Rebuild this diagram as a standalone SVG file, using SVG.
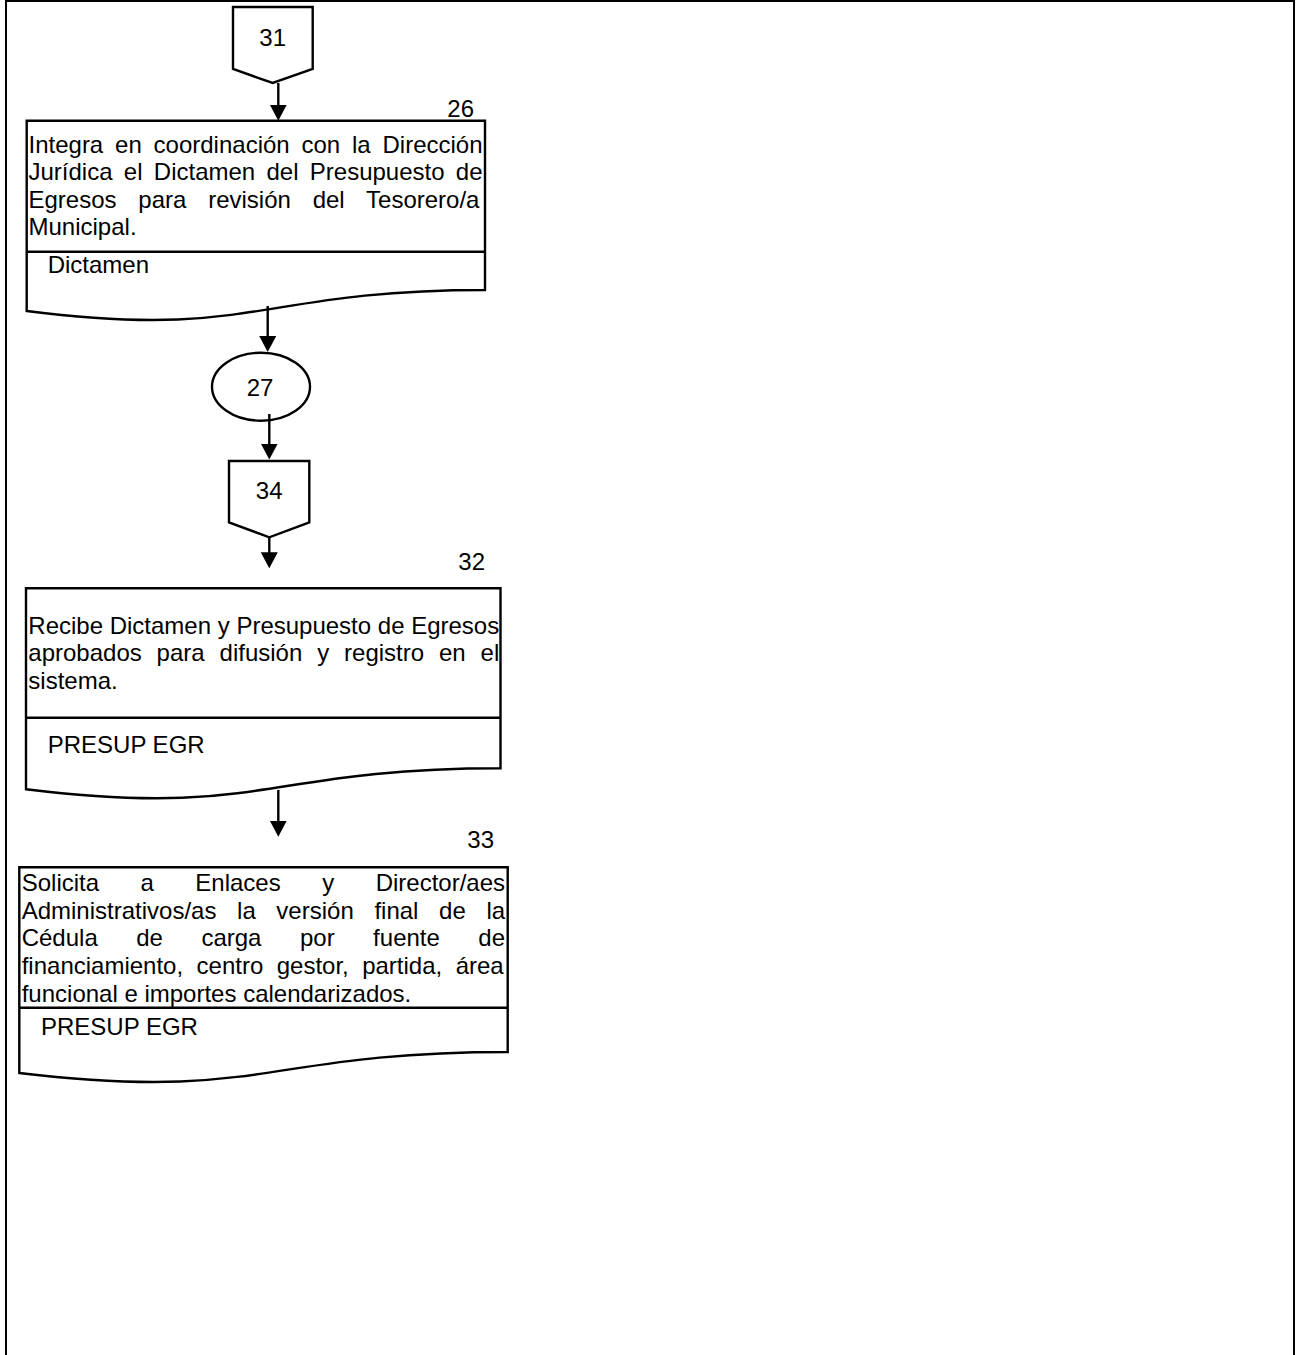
<svg xmlns="http://www.w3.org/2000/svg" width="1297" height="1355" viewBox="0 0 1297 1355">
  <style>
    .frame { fill: none; stroke: #000; stroke-width: 2; }
    .shape { fill: #fff; stroke: #000; stroke-width: 2.4; stroke-linejoin: miter; }
    .line { fill: none; stroke: #000; stroke-width: 2.4; }
    .edge { fill: none; stroke: #000; stroke-width: 2.4; marker-end: url(#arrow); }
    text { font-family: "Liberation Sans", Arial, sans-serif; font-size: 24px; fill: #000; }
    .mid { text-anchor: middle; }
    .end { text-anchor: end; }
  </style>
  <defs>
    <marker id="arrow" markerUnits="userSpaceOnUse" markerWidth="16" markerHeight="17" viewBox="0 0 16 17" refX="12" refY="8.5" orient="auto">
      <path d="M0,0 L16,8.5 L0,17 z" fill="#000"/>
    </marker>
  </defs>

  <rect class="frame" x="6" y="1" width="1288" height="1364"/>

  <!-- off-page connector 31 -->
  <g id="conn31">
    <polygon class="shape" points="233,7 312.7,7 312.7,69 272.7,83 233,69"/>
    <text class="mid" x="272.7" y="46">31</text>
  </g>

  <!-- step 26 -->
  <g id="step26">
    <text class="end" x="474" y="117">26</text>
    <path class="shape" d="M26.7,120.7 H485 V290 C256,290 256,340 26.7,311 Z"/>
    <line class="line" x1="26.7" y1="251.7" x2="485" y2="251.7"/>
    <text x="28.5" y="153" style="word-spacing:5.16px">Integra en coordinación con la Dirección</text>
    <text x="28.5" y="180.4" style="word-spacing:4.63px">Jurídica el Dictamen del Presupuesto de</text>
    <text x="28.5" y="207.8" style="word-spacing:15.13px">Egresos para revisión del Tesorero/a</text>
    <text x="28.5" y="235.2">Municipal.</text>
    <text x="47.7" y="273">Dictamen</text>
  </g>

  <!-- connector 27 -->
  <g id="conn27">
    <ellipse class="shape" cx="261" cy="386.7" rx="49" ry="34"/>
    <text class="mid" x="260" y="395.7">27</text>
  </g>

  <!-- off-page connector 34 -->
  <g id="conn34">
    <polygon class="shape" points="229,461 309.3,461 309.3,522.3 269.3,537.3 229,522.3"/>
    <text class="mid" x="269.2" y="499.3">34</text>
  </g>

  <!-- step 32 -->
  <g id="step32">
    <text class="end" x="485" y="570">32</text>
    <path class="shape" d="M26,588.3 H500.5 V768.3 C263,768.3 263,818.3 26,789.3 Z"/>
    <line class="line" x1="26" y1="717.7" x2="500.5" y2="717.7"/>
    <text x="28.3" y="634">Recibe Dictamen y Presupuesto de Egresos</text>
    <text x="28.3" y="661.4" style="word-spacing:8.23px">aprobados para difusión y registro en el</text>
    <text x="28.3" y="688.8">sistema.</text>
    <text x="47.7" y="752.7">PRESUP EGR</text>
  </g>

  <!-- step 33 -->
  <g id="step33">
    <text class="end" x="494" y="848.3">33</text>
    <path class="shape" d="M19.3,867.3 H507.7 V1052 C263.5,1052 263.5,1102 19.3,1073 Z"/>
    <line class="line" x1="19.3" y1="1007.7" x2="507.7" y2="1007.7"/>
    <text x="21.7" y="891" style="word-spacing:34.8px">Solicita a Enlaces y Director/aes</text>
    <text x="21.7" y="918.7" style="word-spacing:13.97px">Administrativos/as la versión final de la</text>
    <text x="21.7" y="946.4" style="word-spacing:31.82px">Cédula de carga por fuente de</text>
    <text x="21.7" y="974.1" style="word-spacing:6.77px">financiamiento, centro gestor, partida, área</text>
    <text x="21.7" y="1001.8">funcional e importes calendarizados.</text>
    <text x="41" y="1035">PRESUP EGR</text>
  </g>

  <!-- flow connectors -->
  <g id="connectors">
    <line class="edge" x1="278.3" y1="83" x2="278.3" y2="116.7"/>
    <line class="edge" x1="267.7" y1="306" x2="267.7" y2="348"/>
    <line class="edge" x1="269.3" y1="414" x2="269.3" y2="455.5"/>
    <line class="edge" x1="269.3" y1="537.3" x2="269.3" y2="564.3"/>
    <line class="edge" x1="278.3" y1="790" x2="278.3" y2="832.7"/>
  </g>
</svg>
